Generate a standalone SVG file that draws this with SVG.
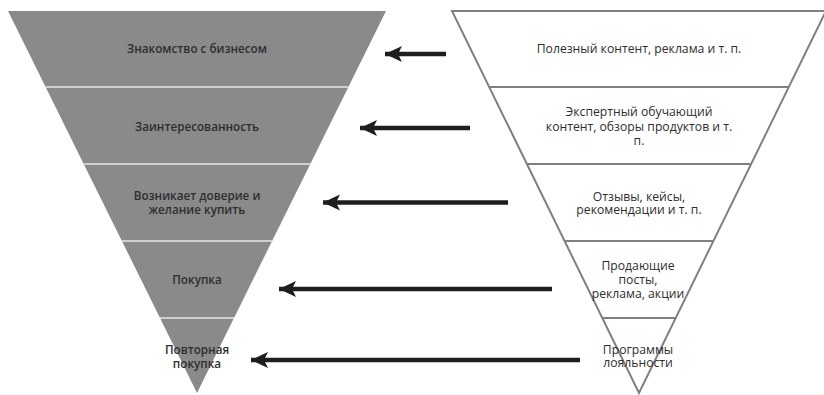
<svg xmlns="http://www.w3.org/2000/svg" width="824" height="395" viewBox="0 0 824 395">
<style>
.lf{fill:#8a8a8a;stroke:none}
.ls{stroke:#e6e6e6;stroke-width:1.5}
.rs{stroke:#808080;stroke-width:2;fill:none}
.lt{font-family:"Open Sans","Noto Sans","Liberation Sans",sans-serif;font-size:11.7px;font-weight:600;fill:#2e2e2e;text-anchor:middle}
.rt{font-family:"Open Sans","Noto Sans","Liberation Sans",sans-serif;font-size:12.2px;font-weight:400;fill:#2e2e2e;text-anchor:middle}
.ar{stroke:#1e1e1e;stroke-width:4.5;fill:none}
</style>
<defs>
<marker id="ah" markerUnits="userSpaceOnUse" markerWidth="20" markerHeight="18" refX="19" refY="9" orient="auto" viewBox="0 0 20 18">
<path d="M19,9 L2,1 L6,9 L2,17 Z" fill="#1e1e1e"/>
</marker>
</defs>
<rect width="824" height="395" fill="#ffffff"/>
<g id="left-funnel">
<g id="l1"><polygon class="lf" points="8,11 386,11 348.4,87 45.6,87"/><text class="lt" x="197" y="53">Знакомство с бизнесом</text></g>
<g id="l2"><polygon class="lf" points="45.6,87 348.4,87 310.3,164 83.7,164"/><text class="lt" x="197" y="131">Заинтересованность</text></g>
<g id="l3"><polygon class="lf" points="83.7,164 310.3,164 272.1,241 121.9,241"/><text class="lt" x="197" y="199.5">Возникает доверие и</text><text class="lt" x="197" y="213.5">желание купить</text></g>
<g id="l4"><polygon class="lf" points="121.9,241 272.1,241 234,318 160,318"/><text class="lt" x="197" y="284">Покупка</text></g>
<g id="l5"><polygon class="lf" points="160,318 234,318 197,393"/><text class="lt" x="197" y="354">Повторная</text><text class="lt" x="197" y="368">покупка</text></g>
<line class="ls" x1="45.6" y1="87" x2="348.4" y2="87"/>
<line class="ls" x1="83.7" y1="164" x2="310.3" y2="164"/>
<line class="ls" x1="121.9" y1="241" x2="272.1" y2="241"/>
<line class="ls" x1="160" y1="318" x2="234" y2="318"/>
</g>
<g id="right-funnel">
<polygon class="rs" points="452,11 826,11 639,393"/>
<line class="rs" x1="489.1" y1="87" x2="788.9" y2="87"/>
<line class="rs" x1="526.7" y1="164" x2="751.3" y2="164"/>
<line class="rs" x1="564.3" y1="241" x2="713.7" y2="241"/>
<line class="rs" x1="601.9" y1="318" x2="676.1" y2="318"/>
<g id="r1"><text class="rt" x="639" y="53">Полезный контент, реклама и т. п.</text></g>
<g id="r2"><text class="rt" x="639" y="116">Экспертный обучающий</text><text class="rt" x="639" y="130.5">контент, обзоры продуктов и т.</text><text class="rt" x="639" y="145">п.</text></g>
<g id="r3"><text class="rt" x="639" y="200.5">Отзывы, кейсы,</text><text class="rt" x="639" y="214">рекомендации и т. п.</text></g>
<g id="r4"><text class="rt" x="638" y="270">Продающие</text><text class="rt" x="638" y="284">посты,</text><text class="rt" x="638" y="298">реклама, акции</text></g>
<g id="r5"><text class="rt" x="638" y="353.5">Программы</text><text class="rt" x="638" y="366.5">лояльности</text></g>
</g>
<g id="connectors">
<line class="ar" x1="446" y1="54" x2="385" y2="54" marker-end="url(#ah)"/>
<line class="ar" x1="470" y1="128" x2="360" y2="128" marker-end="url(#ah)"/>
<line class="ar" x1="508" y1="202.5" x2="323" y2="202.5" marker-end="url(#ah)"/>
<line class="ar" x1="552" y1="289" x2="279" y2="289" marker-end="url(#ah)"/>
<line class="ar" x1="580" y1="360" x2="251" y2="360" marker-end="url(#ah)"/>
</g>
</svg>
